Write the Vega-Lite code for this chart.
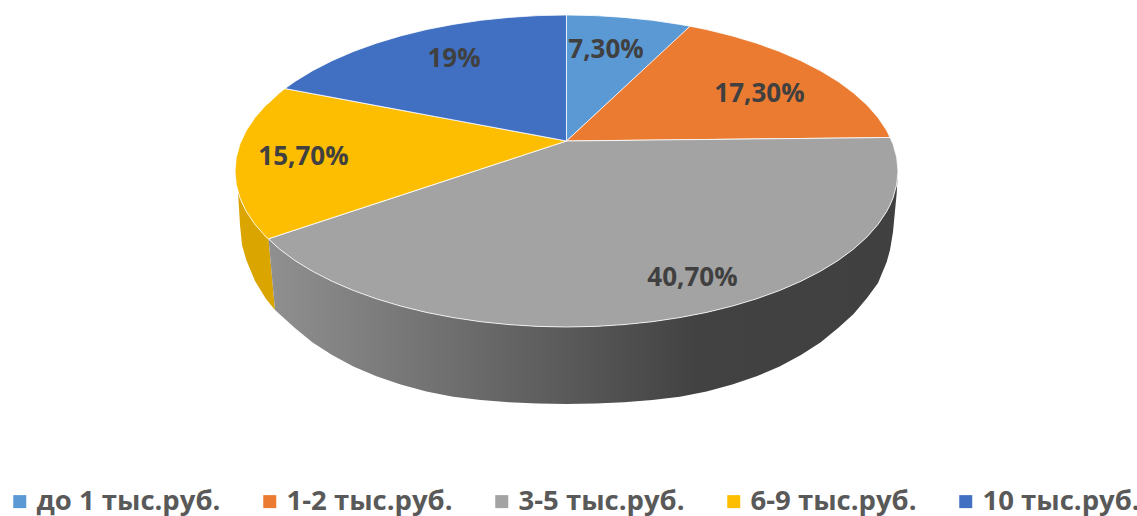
{"$schema":"https://vega.github.io/schema/vega-lite/v6.json","width":1137,"height":516,"autosize":"none","padding":0,"background":"white","config":{"view":{"stroke":null}},
"datasets":{
"walls":[
{"part":"yellow","x":238,"top":192,"bottom":192},{"part":"yellow","x":240,"top":198.1,"bottom":225},{"part":"yellow","x":242,"top":202.9,"bottom":245},{"part":"yellow","x":246.3,"top":211.4,"bottom":260},{"part":"yellow","x":255,"top":224.4,"bottom":281},{"part":"yellow","x":266,"top":236.9,"bottom":299},{"part":"yellow","x":268.5,"top":238.8,"bottom":302},{"part":"yellow","x":275,"top":310,"bottom":310},
{"part":"grey","x":268.5,"top":238.8,"bottom":238.8},{"part":"grey","x":275,"top":245.3,"bottom":310},{"part":"grey","x":279.4,"top":249,"bottom":314},{"part":"grey","x":294.9,"top":260.5,"bottom":328},{"part":"grey","x":312.6,"top":271.3,"bottom":342.5},{"part":"grey","x":332.1,"top":281.3,"bottom":355},{"part":"grey","x":353.4,"top":290.5,"bottom":366.5},{"part":"grey","x":376.4,"top":298.8,"bottom":376.3},{"part":"grey","x":400.7,"top":306.1,"bottom":384.5},{"part":"grey","x":426.4,"top":312.4,"bottom":391.5},{"part":"grey","x":453.1,"top":317.6,"bottom":396.7},{"part":"grey","x":480.7,"top":321.7,"bottom":400},{"part":"grey","x":509,"top":324.6,"bottom":402.3},{"part":"grey","x":537.6,"top":326.4,"bottom":403.6},{"part":"grey","x":566.5,"top":327,"bottom":404},{"part":"grey","x":595.4,"top":326.4,"bottom":403.6},{"part":"grey","x":624,"top":324.6,"bottom":402.3},{"part":"grey","x":652.3,"top":321.7,"bottom":400},{"part":"grey","x":679.9,"top":317.6,"bottom":396.7},{"part":"grey","x":706.6,"top":312.4,"bottom":391.5},{"part":"grey","x":732.3,"top":306.1,"bottom":384.5},{"part":"grey","x":756.6,"top":298.8,"bottom":376.3},{"part":"grey","x":779.6,"top":290.5,"bottom":366.5},{"part":"grey","x":800.9,"top":281.3,"bottom":355},{"part":"grey","x":820.4,"top":271.3,"bottom":342.5},{"part":"grey","x":838.1,"top":260.5,"bottom":328},{"part":"grey","x":853.6,"top":249,"bottom":314},{"part":"grey","x":867,"top":236.9,"bottom":298},{"part":"grey","x":878,"top":224.4,"bottom":283},{"part":"grey","x":886.7,"top":211.4,"bottom":262},{"part":"grey","x":890,"top":205,"bottom":250},{"part":"grey","x":893,"top":198.1,"bottom":232},{"part":"grey","x":896.7,"top":184.6,"bottom":193},{"part":"grey","x":898,"top":171,"bottom":171}
],
"slices":[
{"category":"до 1 тыс.руб.","x":566.5,"top":15,"bottom":141},{"category":"до 1 тыс.руб.","x":595.4,"top":15.6,"bottom":114.3},{"category":"до 1 тыс.руб.","x":624,"top":17.4,"bottom":87.9},{"category":"до 1 тыс.руб.","x":652.3,"top":20.3,"bottom":61.8},{"category":"до 1 тыс.руб.","x":679.9,"top":24.4,"bottom":36.3},{"category":"до 1 тыс.руб.","x":690,"top":26.2,"bottom":26.2},
{"category":"1-2 тыс.руб.","x":566.5,"top":141,"bottom":141},{"category":"1-2 тыс.руб.","x":690,"top":26.2,"bottom":139.7},{"category":"1-2 тыс.руб.","x":706.6,"top":29.6,"bottom":139.5},{"category":"1-2 тыс.руб.","x":732.3,"top":35.9,"bottom":139.2},{"category":"1-2 тыс.руб.","x":756.6,"top":43.2,"bottom":138.9},{"category":"1-2 тыс.руб.","x":779.6,"top":51.5,"bottom":138.7},{"category":"1-2 тыс.руб.","x":800.9,"top":60.7,"bottom":138.5},{"category":"1-2 тыс.руб.","x":820.4,"top":70.7,"bottom":138.3},{"category":"1-2 тыс.руб.","x":838.1,"top":81.5,"bottom":138.1},{"category":"1-2 тыс.руб.","x":853.6,"top":93,"bottom":137.9},{"category":"1-2 тыс.руб.","x":867,"top":105.1,"bottom":137.8},{"category":"1-2 тыс.руб.","x":878,"top":117.6,"bottom":137.6},{"category":"1-2 тыс.руб.","x":886.7,"top":130.6,"bottom":137.5},{"category":"1-2 тыс.руб.","x":890,"top":137.4,"bottom":137.4},
{"category":"3-5 тыс.руб.","x":268.5,"top":238.8,"bottom":238.8},{"category":"3-5 тыс.руб.","x":279.4,"top":235.2,"bottom":249},{"category":"3-5 тыс.руб.","x":294.9,"top":230.1,"bottom":260.5},{"category":"3-5 тыс.руб.","x":312.6,"top":224.3,"bottom":271.3},{"category":"3-5 тыс.руб.","x":332.1,"top":217.9,"bottom":281.3},{"category":"3-5 тыс.руб.","x":353.4,"top":210.9,"bottom":290.5},{"category":"3-5 тыс.руб.","x":376.4,"top":203.4,"bottom":298.8},{"category":"3-5 тыс.руб.","x":400.7,"top":195.4,"bottom":306.1},{"category":"3-5 тыс.руб.","x":426.4,"top":187,"bottom":312.4},{"category":"3-5 тыс.руб.","x":453.1,"top":178.2,"bottom":317.6},{"category":"3-5 тыс.руб.","x":480.7,"top":169.1,"bottom":321.7},{"category":"3-5 тыс.руб.","x":509,"top":159.9,"bottom":324.6},{"category":"3-5 тыс.руб.","x":537.6,"top":150.5,"bottom":326.4},{"category":"3-5 тыс.руб.","x":566.5,"top":141,"bottom":327},{"category":"3-5 тыс.руб.","x":595.4,"top":140.7,"bottom":326.4},{"category":"3-5 тыс.руб.","x":624,"top":140.4,"bottom":324.6},{"category":"3-5 тыс.руб.","x":652.3,"top":140,"bottom":321.7},{"category":"3-5 тыс.руб.","x":679.9,"top":139.7,"bottom":317.6},{"category":"3-5 тыс.руб.","x":706.6,"top":139.5,"bottom":312.4},{"category":"3-5 тыс.руб.","x":732.3,"top":139.2,"bottom":306.1},{"category":"3-5 тыс.руб.","x":756.6,"top":138.9,"bottom":298.8},{"category":"3-5 тыс.руб.","x":779.6,"top":138.7,"bottom":290.5},{"category":"3-5 тыс.руб.","x":800.9,"top":138.5,"bottom":281.3},{"category":"3-5 тыс.руб.","x":820.4,"top":138.3,"bottom":271.3},{"category":"3-5 тыс.руб.","x":838.1,"top":138.1,"bottom":260.5},{"category":"3-5 тыс.руб.","x":853.6,"top":137.9,"bottom":249},{"category":"3-5 тыс.руб.","x":867,"top":137.8,"bottom":236.9},{"category":"3-5 тыс.руб.","x":878,"top":137.6,"bottom":224.4},{"category":"3-5 тыс.руб.","x":886.7,"top":137.5,"bottom":211.4},{"category":"3-5 тыс.руб.","x":890,"top":137.4,"bottom":205},{"category":"3-5 тыс.руб.","x":893,"top":143.9,"bottom":198.1},{"category":"3-5 тыс.руб.","x":896.7,"top":157.4,"bottom":184.6},{"category":"3-5 тыс.руб.","x":898,"top":171,"bottom":171},
{"category":"6-9 тыс.руб.","x":235,"top":171,"bottom":171},{"category":"6-9 тыс.руб.","x":236.3,"top":157.4,"bottom":184.6},{"category":"6-9 тыс.руб.","x":240,"top":143.9,"bottom":198.1},{"category":"6-9 тыс.руб.","x":246.3,"top":130.6,"bottom":211.4},{"category":"6-9 тыс.руб.","x":255,"top":117.6,"bottom":224.4},{"category":"6-9 тыс.руб.","x":266,"top":105.1,"bottom":236.9},{"category":"6-9 тыс.руб.","x":268.5,"top":103.2,"bottom":238.8},{"category":"6-9 тыс.руб.","x":279.4,"top":93,"bottom":235.2},{"category":"6-9 тыс.руб.","x":285,"top":88.6,"bottom":233.3},{"category":"6-9 тыс.руб.","x":566.5,"top":141,"bottom":141},
{"category":"10 тыс.руб.","x":285,"top":88.6,"bottom":88.6},{"category":"10 тыс.руб.","x":294.9,"top":81.5,"bottom":90.4},{"category":"10 тыс.руб.","x":312.6,"top":70.7,"bottom":93.7},{"category":"10 тыс.руб.","x":332.1,"top":60.7,"bottom":97.3},{"category":"10 тыс.руб.","x":353.4,"top":51.5,"bottom":101.3},{"category":"10 тыс.руб.","x":376.4,"top":43.2,"bottom":105.6},{"category":"10 тыс.руб.","x":400.7,"top":35.9,"bottom":110.1},{"category":"10 тыс.руб.","x":426.4,"top":29.6,"bottom":114.9},{"category":"10 тыс.руб.","x":453.1,"top":24.4,"bottom":119.9},{"category":"10 тыс.руб.","x":480.7,"top":20.3,"bottom":125},{"category":"10 тыс.руб.","x":509,"top":17.4,"bottom":130.3},{"category":"10 тыс.руб.","x":537.6,"top":15.6,"bottom":135.6},{"category":"10 тыс.руб.","x":566.5,"top":15,"bottom":141}
],
"labels":[
{"category":"до 1 тыс.руб.","value":7.3,"label":"7,30%","x":606,"y":50},
{"category":"1-2 тыс.руб.","value":17.3,"label":"17,30%","x":759.5,"y":94},
{"category":"3-5 тыс.руб.","value":40.7,"label":"40,70%","x":692.5,"y":278},
{"category":"6-9 тыс.руб.","value":15.7,"label":"15,70%","x":303.5,"y":157},
{"category":"10 тыс.руб.","value":19,"label":"19%","x":454,"y":59}
]},
"encoding":{
"x":{"field":"x","type":"quantitative","axis":null,"scale":{"domain":[0,1137],"nice":false,"zero":false}},
"y":{"field":"top","type":"quantitative","axis":null,"stack":null,"scale":{"domain":[516,0],"nice":false,"zero":false}}
},
"layer":[
{"data":{"name":"walls"},"transform":[{"filter":"datum.part==='yellow'"}],"mark":{"type":"area","color":"#DBA500"},"encoding":{"y2":{"field":"bottom"}}},
{"data":{"name":"walls"},"transform":[{"filter":"datum.part==='grey'"}],"mark":{"type":"area","color":{"gradient":"linear","x1":0,"y1":0,"x2":1,"y2":0,"stops":[{"offset":0,"color":"#909090"},{"offset":0.68,"color":"#424242"},{"offset":1,"color":"#404040"}]}},"encoding":{"y2":{"field":"bottom"}}},
{"data":{"name":"slices"},"mark":{"type":"area","stroke":"#ffffff","strokeWidth":1,"strokeOpacity":0.8},"encoding":{"y2":{"field":"bottom"},"color":{"field":"category","type":"nominal","scale":{"domain":["до 1 тыс.руб.","1-2 тыс.руб.","3-5 тыс.руб.","6-9 тыс.руб.","10 тыс.руб."],"range":["#5A99D4","#EB7B30","#A3A3A3","#FDBD00","#4170C3"]},"legend":{"title":null,"orient":"none","legendX":6,"legendY":487.5,"direction":"horizontal","columns":5,"columnPadding":35,"symbolType":"square","symbolSize":169,"symbolStrokeWidth":0,"labelFont":"Open Sans","labelFontSize":27.5,"labelFontWeight":"bold","labelColor":"#595959","labelLimit":300,"labelOffset":3}}}},
{"data":{"name":"labels"},"mark":{"type":"text","font":"Open Sans","fontSize":26,"fontWeight":"bold","color":"#404040","align":"center","baseline":"middle"},"encoding":{"y":{"field":"y","type":"quantitative"},"text":{"field":"label","type":"nominal"}}}
]}
